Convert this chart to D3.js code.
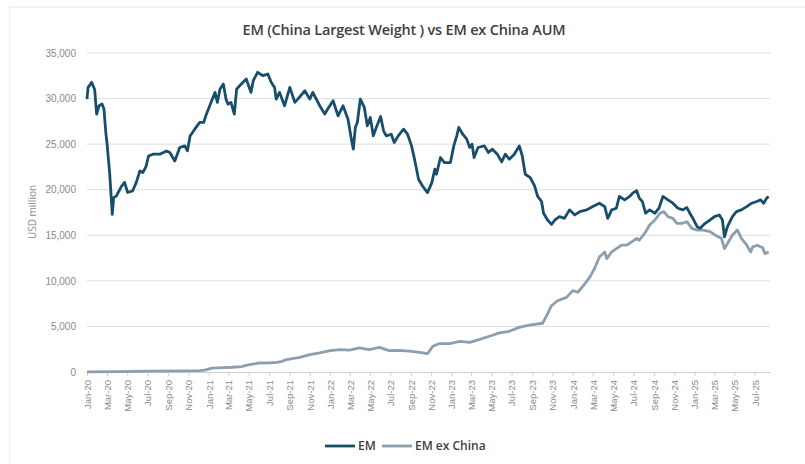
<!DOCTYPE html>
<html>
<head>
<meta charset="utf-8">
<script src="https://cdn.jsdelivr.net/npm/d3@7"></script>
<style>
  body { margin: 0; background: #fff; }
  svg { font-family: "Open Sans", "Liberation Sans", sans-serif; }
</style>
</head>
<body>
<svg id="chart" width="805" height="464"></svg>
<script>
// EM fund AUM (USD million)
var emPoints = [
  ["2020-01-01",29950],["2020-01-04",31200],["2020-01-15",31780],["2020-01-24",31000],["2020-01-30",28300],
  ["2020-02-06",29200],["2020-02-15",29400],["2020-02-21",28850],["2020-02-27",26100],["2020-03-01",25180],
  ["2020-03-09",21900],["2020-03-17",17300],["2020-03-21",19130],["2020-03-29",19300],["2020-04-14",20400],
  ["2020-04-23",20800],["2020-05-02",19700],["2020-05-17",19860],["2020-05-28",20780],["2020-06-08",22060],
  ["2020-06-17",21880],["2020-06-27",22600],["2020-07-04",23700],["2020-07-17",23900],["2020-08-07",23900],
  ["2020-08-27",24260],["2020-09-06",24080],["2020-09-21",23160],["2020-10-06",24630],["2020-10-21",24810],
  ["2020-10-29",24260],["2020-11-06",25900],["2020-11-20",26640],["2020-12-05",27380],["2020-12-17",27380],
  ["2020-12-25",28290],["2021-01-10",29760],["2021-01-20",30680],["2021-01-27",29580],["2021-02-04",31040],
  ["2021-02-14",31590],["2021-02-22",29940],["2021-02-28",29390],["2021-03-09",29580],["2021-03-19",28290],
  ["2021-03-26",31040],["2021-04-04",31410],["2021-04-24",32140],["2021-05-08",30680],["2021-05-15",31960],
  ["2021-05-28",32880],["2021-06-13",32510],["2021-06-28",32690],["2021-07-08",31780],["2021-07-18",31230],
  ["2021-07-23",29940],["2021-08-02",30680],["2021-08-17",29210],["2021-09-02",31230],["2021-09-17",29580],
  ["2021-09-26",29940],["2021-10-17",30860],["2021-11-01",29940],["2021-11-10",30680],["2021-12-01",29210],
  ["2021-12-16",28290],["2021-12-25",28850],["2022-01-10",29760],["2022-01-25",28110],["2022-02-09",29210],
  ["2022-02-24",27740],["2022-03-06",25550],["2022-03-12",24450],["2022-03-18",26830],["2022-03-24",27380],
  ["2022-04-02",29940],["2022-04-14",29030],["2022-04-23",27010],["2022-05-02",27930],["2022-05-11",25910],
  ["2022-05-20",26830],["2022-06-02",28040],["2022-06-11",26460],["2022-06-19",25910],["2022-07-04",26090],
  ["2022-07-13",25180],["2022-07-25",25910],["2022-08-10",26640],["2022-08-22",26090],["2022-09-03",24810],
  ["2022-09-12",23350],["2022-09-24",21150],["2022-10-06",20410],["2022-10-21",19680],["2022-11-03",20780],
  ["2022-11-12",22250],["2022-11-17",21700],["2022-11-29",23530],["2022-12-11",22980],["2022-12-29",22980],
  ["2023-01-08",24810],["2023-01-17",25910],["2023-01-23",26830],["2023-02-04",26090],["2023-02-16",25550],
  ["2023-02-25",24630],["2023-03-04",25000],["2023-03-10",23530],["2023-03-22",24630],["2023-04-10",24810],
  ["2023-04-22",24080],["2023-05-04",24450],["2023-05-19",23900],["2023-06-01",23050],["2023-06-12",23900],
  ["2023-06-24",23350],["2023-07-09",23900],["2023-07-24",24810],["2023-08-02",23710],["2023-08-11",21700],
  ["2023-08-26",21330],["2023-09-08",20410],["2023-09-17",19300],["2023-09-29",18710],["2023-10-05",17420],
  ["2023-10-17",16680],["2023-10-29",16200],["2023-11-08",16680],["2023-11-22",17050],["2023-12-07",16860],
  ["2023-12-22",17790],["2024-01-07",17230],["2024-01-22",17600],["2024-02-12",17790],["2024-03-01",18150],
  ["2024-03-21",18520],["2024-04-06",18150],["2024-04-15",16860],["2024-04-27",17790],["2024-05-11",17970],
  ["2024-05-20",19260],["2024-06-05",18890],["2024-06-20",19260],["2024-06-29",19630],["2024-07-11",19890],
  ["2024-07-19",19080],["2024-07-28",18710],["2024-08-07",17420],["2024-08-19",17790],["2024-09-04",17420],
  ["2024-09-16",17970],["2024-09-28",19260],["2024-10-13",18890],["2024-10-28",18520],["2024-11-12",17970],
  ["2024-11-27",17790],["2024-12-09",18040],["2024-12-18",17420],["2024-12-27",16860],["2025-01-09",15940],
  ["2025-01-18",15760],["2025-02-02",16310],["2025-02-17",16680],["2025-03-02",17050],["2025-03-17",17230],
  ["2025-03-26",16680],["2025-04-01",14830],["2025-04-10",15940],["2025-04-25",17050],["2025-05-07",17600],
  ["2025-05-22",17790],["2025-06-07",18150],["2025-06-22",18520],["2025-07-07",18710],["2025-07-19",18890],
  ["2025-07-28",18520],["2025-08-06",19080],["2025-08-12",19260]
];

// EM ex China fund AUM (USD million)
var exChinaPoints = [
  ["2020-01-01",20],["2020-04-08",50],["2020-07-06",100],["2020-10-06",120],["2020-12-05",150],
  ["2020-12-20",200],["2021-01-11",420],["2021-01-26",450],["2021-03-13",520],["2021-04-09",600],
  ["2021-05-03",800],["2021-06-03",990],["2021-07-03",1000],["2021-07-24",1060],["2021-08-08",1150],
  ["2021-08-23",1360],["2021-10-02",1600],["2021-11-01",1900],["2021-12-01",2090],["2022-01-01",2350],
  ["2022-02-01",2460],["2022-03-01",2400],["2022-03-30",2640],["2022-04-29",2460],["2022-05-29",2700],
  ["2022-06-28",2350],["2022-07-28",2380],["2022-08-27",2300],["2022-09-27",2150],["2022-10-21",2020],
  ["2022-11-06",2820],["2022-11-26",3120],["2022-12-26",3120],["2023-01-26",3370],["2023-02-25",3260],
  ["2023-03-25",3560],["2023-04-25",3920],["2023-05-25",4290],["2023-06-24",4470],["2023-07-24",4900],
  ["2023-08-23",5150],["2023-10-02",5350],["2023-10-14",6160],["2023-10-29",7270],["2023-11-16",7820],
  ["2023-12-13",8190],["2024-01-01",8930],["2024-01-16",8750],["2024-02-06",9670],["2024-02-21",10410],
  ["2024-03-06",11330],["2024-03-21",12620],["2024-04-06",13170],["2024-04-12",12440],["2024-04-27",13170],
  ["2024-05-11",13540],["2024-05-26",13910],["2024-06-11",13910],["2024-06-26",14280],["2024-07-11",14650],
  ["2024-07-19",14460],["2024-08-04",15200],["2024-08-19",16130],["2024-09-04",16680],["2024-09-19",17420],
  ["2024-10-01",17600],["2024-10-13",17050],["2024-10-28",16860],["2024-11-09",16310],["2024-11-24",16310],
  ["2024-12-09",16490],["2024-12-24",15760],["2025-01-09",15570],["2025-01-27",15570],["2025-02-17",15390],
  ["2025-03-08",14940],["2025-03-23",14650],["2025-04-01",13540],["2025-04-10",14100],["2025-04-25",15020],
  ["2025-05-10",15570],["2025-05-22",14650],["2025-06-07",13910],["2025-06-19",13170],["2025-06-25",13730],
  ["2025-07-09",13910],["2025-07-25",13620],["2025-08-01",12990],["2025-08-12",13170]
];

var yTicks = [0, 5000, 10000, 15000, 20000, 25000, 30000, 35000];
var seriesNames = ["EM", "EM ex China"];
var seriesColors = ["#174e6b", "#8c9fb0"];

var parse = d3.timeParse("%Y-%m-%d");
var em = emPoints.map(function(d) { return { date: parse(d[0]), value: d[1] }; });
var exChina = exChinaPoints.map(function(d) { return { date: parse(d[0]), value: d[1] }; });

var svg = d3.select('#chart');

// faint card edge
svg.append('line').attr('x1', 10).attr('x2', 805).attr('y1', 7).attr('y2', 7)
  .attr('stroke', '#e6e6e6').attr('stroke-width', 1);
svg.append('line').attr('x1', 9.5).attr('x2', 9.5).attr('y1', 7).attr('y2', 464)
  .attr('stroke', '#eeeeee').attr('stroke-width', 1);

var x = d3.scaleTime()
  .domain([parse("2020-01-01"), parse("2025-08-16")])
  .range([87, 770]);
var y = d3.scaleLinear().domain([0, 35000]).range([372, 53]);

// gridlines
svg.append('g').selectAll('line').data(yTicks.slice(1)).enter().append('line')
  .attr('x1', 87).attr('x2', 770)
  .attr('y1', function(d) { return y(d); }).attr('y2', function(d) { return y(d); })
  .attr('stroke', '#dedede').attr('stroke-width', 1);

// y axis labels
var yAxis = d3.axisLeft(y).tickValues(yTicks).tickSize(0).tickPadding(0)
  .tickFormat(d3.format(","));
var yg = svg.append('g').attr('transform', 'translate(76,0)').call(yAxis);
yg.select('.domain').remove();
yg.selectAll('text').attr('fill', '#8a8a8a').style('font-size', '10px');

svg.append('text')
  .attr('transform', 'translate(36,212) rotate(-90)')
  .attr('text-anchor', 'middle')
  .attr('fill', '#8a8a8a').style('font-size', '10px')
  .text('USD million');

// x axis
var xAxis = d3.axisBottom(x)
  .ticks(d3.timeMonth.every(2))
  .tickSize(4).tickSizeOuter(0)
  .tickFormat(d3.timeFormat("%b-%y"));
var xg = svg.append('g').attr('transform', 'translate(0,372)').call(xAxis);
xg.select('.domain').attr('stroke', '#d0d0d0');
xg.selectAll('.tick line').attr('stroke', '#d0d0d0');
xg.selectAll('text')
  .attr('fill', '#8a8a8a').style('font-size', '9.5px')
  .attr('transform', 'rotate(-90)')
  .attr('text-anchor', 'end')
  .attr('x', -8).attr('y', 0).attr('dy', '0.35em');

// lines
var line = d3.line()
  .x(function(d) { return x(d.date); })
  .y(function(d) { return y(d.value); });

svg.append('path').datum(exChina)
  .attr('fill', 'none').attr('stroke', seriesColors[1]).attr('stroke-width', 2.8)
  .attr('stroke-linejoin', 'round').attr('d', line);
svg.append('path').datum(em)
  .attr('fill', 'none').attr('stroke', seriesColors[0]).attr('stroke-width', 2.8)
  .attr('stroke-linejoin', 'round').attr('d', line);

// title
svg.append('text')
  .attr('x', 404).attr('y', 35)
  .attr('text-anchor', 'middle')
  .attr('fill', '#404040')
  .style('font-size', '14.5px').style('font-weight', '600')
  .style('letter-spacing', '-0.2px')
  .text('EM (China Largest Weight ) vs EM ex China AUM');

// legend
var legendX = [325, 382];
var legend = svg.append('g').selectAll('g').data(seriesNames).enter().append('g')
  .attr('transform', function(d, i) { return 'translate(' + legendX[i] + ',446)'; });
legend.append('line').attr('x1', 0).attr('x2', 30).attr('y1', 0).attr('y2', 0)
  .attr('stroke', function(d, i) { return seriesColors[i]; }).attr('stroke-width', 2.8);
legend.append('text').attr('x', 33).attr('y', 0).attr('dy', '0.35em')
  .attr('fill', '#404040').style('font-size', '12px').style('font-weight', '600')
  .text(function(d) { return d; });
</script>
</body>
</html>
